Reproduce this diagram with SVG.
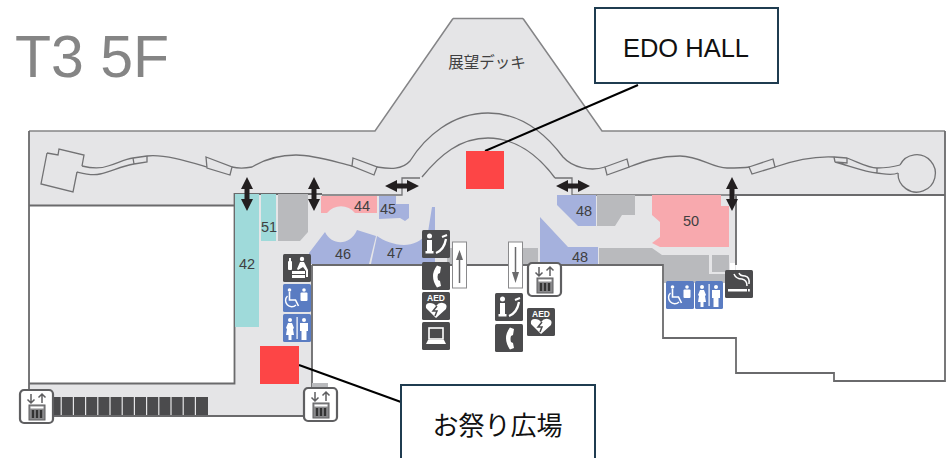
<svg xmlns="http://www.w3.org/2000/svg" width="952" height="458" viewBox="0 0 952 458">
<style>
.wall{fill:none;stroke:#6a6a6c;stroke-width:1.800;stroke-linejoin:miter}
.soft{fill:none;stroke:#858587;stroke-width:1.500;stroke-linejoin:miter}
.thin{fill:none;stroke:#727274;stroke-width:1.300}
.blue{fill:#a5b1dd}.pink{fill:#f8a9ae}.teal{fill:#9fdada}.grey{fill:#b9babd}.floor{fill:#e5e5e7}
.num{font-family:"Liberation Sans",sans-serif;font-size:14.500px;fill:#3f3f41;text-anchor:middle}
.red{fill:#fd4546}
.box{fill:#fff;stroke:#1f3c50;stroke-width:2}
.call{font-family:"Liberation Sans","Noto Sans CJK JP",sans-serif;font-size:25.500px;fill:#111;text-anchor:middle}
.lead{stroke:#000;stroke-width:2;fill:none}
.dk{fill:#4b4b4d}.bl{fill:#5a7cc2}.w{fill:#fff}
.dbl{fill:#231f20}
.st{fill:#4b4b4d}
</style>
<defs>
<path id="dblv" class="dbl" d="M0,-17 L6,-5 L2.500,-5 L2.500,5 L6,5 L0,17 L-6,5 L-2.500,5 L-2.500,-5 L-6,-5 Z"/>
<path id="dblh" class="dbl" d="M-17,0 L-5,-6 L-5,-2.500 L5,-2.500 L5,-6 L17,0 L5,6 L5,2.500 L-5,2.500 L-5,6 Z"/>
<g id="lift">
<rect x="1" y="1" width="33" height="33" rx="4" fill="#fff" stroke="#5f5f61" stroke-width="2.200"/>
<path d="M12,5v9M8.500,10.500L12,14L15.500,10.500M23,14V5M19.500,8.500L23,5L26.500,8.500" fill="none" stroke="#5f5f61" stroke-width="1.500"/>
<rect x="10" y="16" width="16" height="15" fill="#8a8a8c" stroke="#5f5f61"/>
<rect x="11.500" y="17.500" width="13" height="2" fill="#fff"/>
<path d="M14,21v8M18,21v8M22,21v8" stroke="#333" stroke-width="2.400"/>
</g>
<g id="info"><rect width="28" height="28" rx="1.500" class="dk"/><circle cx="7.500" cy="6" r="2.500" class="w"/><rect x="5" y="10" width="5" height="12" class="w"/><rect x="3.500" y="21" width="8" height="2.500" class="w"/><path d="M14,23 Q22,20 24,9" fill="none" stroke="#fff" stroke-width="2.300"/><path d="M20,7 L25,5" stroke="#fff" stroke-width="2"/></g>
<g id="phone"><rect width="28" height="28" rx="1.500" class="dk"/><path d="M15,3.500 L19,5 L18,11 L16,12 Q15,15 16,18 L18,19 L19,24 L15,25.500 Q7,14 15,3.500Z" class="w"/></g>
<g id="aed"><rect width="28" height="28" rx="1.500" class="dk"/><text x="14" y="9" font-family="Liberation Sans,sans-serif" font-size="8.500" font-weight="700" fill="#fff" text-anchor="middle">AED</text><path d="M14,26 L4,16 Q3,11 8,11 Q12,11 14,14 Q17,10 21,11 Q26,12 24,17 Z" class="w"/><path d="M15,14 L11,19 L15,19 L13,24" fill="none" stroke="#4b4b4d" stroke-width="1.500"/></g>
<g id="pc"><rect width="28" height="28" rx="1.500" class="dk"/><rect x="7" y="6" width="14" height="11" fill="none" stroke="#fff" stroke-width="1.600"/><path d="M6,18h16l2,4H4z" class="w"/></g>
<g id="wc"><rect width="28" height="28" rx="1.500" class="bl"/><circle cx="6.500" cy="6" r="1.800" class="w"/><path d="M6.500,8v8h6l3,6" fill="none" stroke="#fff" stroke-width="1.600"/><path d="M4.500,12 A6,6 0 1 0 13,21" fill="none" stroke="#fff" stroke-width="1.400"/><circle cx="21" cy="6" r="1.800" class="w"/><rect x="17.500" y="8.500" width="7" height="8.500" rx="1" class="w"/></g>
<g id="toilet"><rect width="28" height="28" rx="1.500" class="bl"/><circle cx="7" cy="6" r="2" class="w"/><path d="M5,9h4l2,5l-1,1l1,6H8.500v5h-3v-5H3l1,-6l-1,-1z" class="w"/><rect x="13.500" y="3" width="1.200" height="22" class="w"/><circle cx="21" cy="6" r="2" class="w"/><path d="M17,9h8v8h-1.500v9h-5v-9H17z" class="w"/></g>
<g id="baby"><rect width="28" height="28" rx="1.500" class="dk"/><rect x="5" y="7" width="4" height="9" rx="1" class="w"/><rect x="6" y="4" width="2" height="3" class="w"/><circle cx="19" cy="5" r="2.200" class="w"/><path d="M17,8h4l4,8v7h-2v-6l-3,-4l-5,3l-1,-1z" class="w"/><rect x="9" y="17" width="13" height="3" class="w"/><rect x="9" y="21" width="13" height="3" class="w"/></g>
<g id="smoke"><rect width="28" height="28" rx="1.500" class="dk"/><rect x="3" y="19" width="19" height="2.500" class="w"/><rect x="23" y="19" width="1.800" height="2.500" class="w"/><path d="M9,4 Q11,9 17,9 Q22,10 22,16 M14,3 Q15,6 20,6 Q25,7 24,14" fill="none" stroke="#fff" stroke-width="1.500"/></g>
</defs>

<g id="floor-plan">
<path class="floor" d="M29,131H375L453,18.500H523L602,131H945V195H736V283H663V265H312V387H329V415H29Z"/>
<rect x="30" y="206" width="204.500" height="177.500" fill="#fff"/>
<path class="soft" d="M453,18.500H523"/>
<path class="soft" d="M29,131H375L453,18.500M523,18.500L602,131H945"/>
<path class="wall" d="M29,131V416H312M29,383.500H234.500V194H322M29,205.500H234.500M312,265V388M945,131V381H834V373H736V338H663V265H312M945,195H736V265"/>
<path d="M322,195H402V178H420M555,178H572V195H736" class="thin"/>
</g>

<g id="promenade">
<path class="thin" d="M82,166 C90,168 100,169 108,166 C118,163 125,159 133,158 L147,156 C165,154 190,162 207,167"/>
<path class="thin" d="M77,172 C85,174 92,176 100,174 C112,171 122,166 134,164"/>
<path class="thin" d="M47,153 L58,155 L59,149 L84,155 L82,166 M77,172 L73,192 L41,184 L47,153"/>
<path class="thin" d="M133,158L134,164M147,156L147,162L134,164"/>
<path class="thin" d="M206,157 L232,167 L230,175 L207,168 Z"/>
<path class="thin" d="M232,167 C240,169 247,168 252,167 C265,159 280,155 296,155 C315,155 335,162 352,166"/>
<path class="thin" d="M353,158L377,167L374,175L352,166Z"/>
<path class="thin" d="M377,167 C390,169 402,170 410,161 C425,137 452,113 488,113 C524,113 548,137 563,157 C572,167 590,172 605,167"/>
<path class="thin" d="M605,167L627,159L629,167L607,175Z"/>
<path class="thin" d="M629,167 C645,161 660,156 680,156 C700,156 712,168 727,168 C735,168 742,168 750,167"/>
<path class="thin" d="M749,167L773,159L775,167L752,174Z"/>
<path class="thin" d="M775,167 C795,160 815,156 834,157 L847,158 C860,163 868,168 877,168 C885,168 893,167 900,165"/>
<path class="thin" d="M835,162L847,163L847,158M835,162L834,157M835,162 C850,166 865,172 877,173 C885,174 892,176 898,173M877,168V173"/>
<path class="thin" d="M900,165 A18.700,18.700 0 1 1 898,173"/>
<path class="thin" d="M422,177 C440,155 460,138 488,138 C515,138 538,155 555,178"/>
</g>

<g id="shops-grey">
<path class="grey" d="M278,194H308V232L300,241H278Z"/>
<path class="grey" d="M597,195H635V215H622L615,226H597Z"/>
<rect class="grey" x="447" y="248" width="6" height="16"/>
<rect class="grey" x="523" y="248" width="15" height="16"/>
<path class="grey" d="M599,248H652L662,255H710V273H730V283H664V264H599Z"/>
<rect class="grey" x="712" y="255" width="17" height="17"/>
<rect class="grey" x="312" y="383" width="16" height="4"/>
<path d="M710,254V273H730" fill="none" stroke="#e5e5e7" stroke-width="2"/>
<rect x="730" y="263" width="5" height="7" fill="#fff"/>
</g>

<g id="shop-42"><rect class="teal" x="235" y="194" width="24" height="133"/><text class="num" x="247" y="269">42</text></g>
<g id="shop-51"><rect class="teal" x="261" y="194" width="15" height="47"/><text class="num" x="269" y="232">51</text></g>
<g id="shop-44"><path class="pink" d="M321,196H377V213H355A18,18 0 0 0 327,213L321,213Z"/><text class="num" x="362" y="211">44</text></g>
<g id="shop-45"><path class="blue" d="M379,196H396V204H409V218L405,221L400,218L379,219Z"/><text class="num" x="388" y="214">45</text></g>
<g id="shop-46"><path class="blue" d="M309,253L325,232C332,246 350,246 357,230L376,236L369,264H309Z"/><text class="num" x="343" y="259">46</text></g>
<g id="shop-47"><path class="blue" d="M377,236C390,245 415,252 428,232L432,207H435V264H371Z"/><text class="num" x="395" y="258">47</text></g>
<g id="shop-48a"><path class="blue" d="M557,195H596V226H578L557,205Z"/><text class="num" x="584" y="216">48</text></g>
<g id="shop-48b"><path class="blue" d="M540,217L568,247H598V264H540Z"/><text class="num" x="580" y="262">48</text></g>
<g id="shop-50"><path class="pink" d="M652,195H721V206H729V247H660L652,243L660,237V222L652,215Z"/><text class="num" x="691" y="226">50</text></g>
<g id="deck-label"><text x="487" y="68" font-family="Noto Sans CJK JP,sans-serif" font-size="15.500" fill="#3f3f41" text-anchor="middle">展望デッキ</text></g>
<g id="title"><text x="15" y="77" font-family="Liberation Sans,sans-serif" font-size="59" fill="#858585">T3 5F</text></g>

<g id="strip" class="st">
<rect x="49.600" y="397" width="11" height="18"/><rect x="61.800" y="397" width="11" height="18"/><rect x="74" y="397" width="11" height="18"/><rect x="86.200" y="397" width="11" height="18"/><rect x="98.400" y="397" width="11" height="18"/><rect x="110.600" y="397" width="11" height="18"/><rect x="122.800" y="397" width="11" height="18"/><rect x="135" y="397" width="11" height="18"/><rect x="147.200" y="397" width="11" height="18"/><rect x="159.400" y="397" width="11" height="18"/><rect x="171.600" y="397" width="11" height="18"/><rect x="183.800" y="397" width="11" height="18"/><rect x="196" y="397" width="12" height="18"/>
</g>

<g id="escalator-up"><rect x="452.500" y="242" width="14" height="46" fill="#fff" stroke="#8a8a8c"/><path d="M459.500,283V253" stroke="#6a6a6c" stroke-width="1.500"/><path d="M459.500,250L456,260H463Z" fill="#6a6a6c"/></g>
<g id="escalator-down"><rect x="508.500" y="242" width="14" height="46" fill="#fff" stroke="#8a8a8c"/><path d="M515.500,247V277" stroke="#6a6a6c" stroke-width="1.500"/><path d="M515.500,283L512,272H519Z" fill="#6a6a6c"/></g>

<g id="lift-1"><use href="#lift" x="19" y="389"/></g>
<g id="lift-2"><use href="#lift" x="303" y="387"/></g>
<g id="lift-3"><use href="#lift" x="527" y="262"/></g>
<g id="icon-info-1"><use href="#info" x="422" y="230"/></g>
<g id="icon-phone-1"><use href="#phone" x="422" y="262"/></g>
<g id="icon-aed-1"><use href="#aed" x="422" y="292"/></g>
<g id="icon-pc"><use href="#pc" x="422" y="322"/></g>
<g id="icon-info-2"><use href="#info" x="495" y="293"/></g>
<g id="icon-phone-2"><use href="#phone" x="495" y="324"/></g>
<g id="icon-aed-2"><use href="#aed" x="527" y="308"/></g>
<g id="icon-baby"><use href="#baby" x="283" y="254"/></g>
<g id="icon-wc-1"><use href="#wc" x="283" y="284"/></g>
<g id="icon-toilet-1"><use href="#toilet" x="283" y="314"/></g>
<g id="icon-wc-2"><use href="#wc" x="666" y="281"/></g>
<g id="icon-toilet-2"><use href="#toilet" x="695" y="281"/></g>
<g id="icon-smoke"><use href="#smoke" x="725" y="270"/></g>

<g id="arrows">
<use href="#dblv" x="247" y="194"/>
<use href="#dblv" x="314" y="194"/>
<use href="#dblv" x="732" y="194"/>
<use href="#dblh" x="402" y="186"/>
<use href="#dblh" x="573" y="186"/>
</g>

<g id="connectors">
<path class="lead" d="M485,151L638,85"/>
<path class="lead" d="M299,365L401,402"/>
</g>
<g id="marker-edo"><rect class="red" x="466" y="151" width="38" height="38"/></g>
<g id="marker-matsuri"><rect class="red" x="260" y="346" width="39" height="38"/></g>
<g id="callout-edo"><rect class="box" x="595" y="8" width="183" height="75"/><text class="call" x="686" y="57">EDO HALL</text></g>
<g id="callout-matsuri"><rect class="box" x="401" y="385" width="194" height="80"/><text class="call" x="497.500" y="435" style="font-family:'Noto Sans CJK JP',sans-serif;font-size:26px">お祭り広場</text></g>
</svg>
